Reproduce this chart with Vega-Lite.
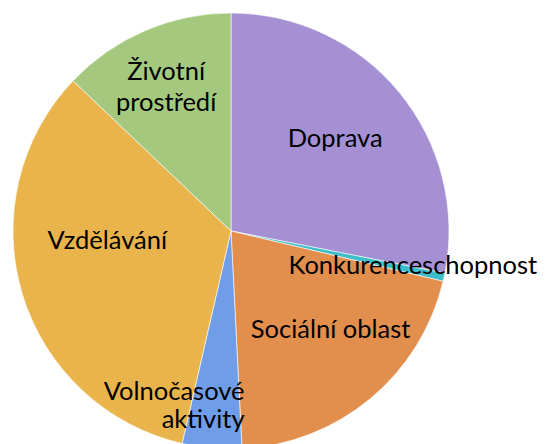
{
  "$schema": "https://vega.github.io/schema/vega-lite/v6.json",
  "width": 547,
  "height": 444,
  "autosize": "none",
  "padding": 0,
  "background": "white",
  "config": {"view": {"stroke": null}},
  "data": {
    "values": [
      {"label": "Doprava", "value": 28.1, "order": 1},
      {"label": "Konkurenceschopnost", "value": 0.6, "order": 2},
      {"label": "Sociální oblast", "value": 20.5, "order": 3},
      {"label": "Volnočasové aktivity", "value": 4.4, "order": 4},
      {"label": "Vzdělávání", "value": 33.5, "order": 5},
      {"label": "Životní prostředí", "value": 12.9, "order": 6}
    ]
  },
  "encoding": {
    "theta": {"field": "value", "type": "quantitative", "stack": true},
    "order": {"field": "order", "type": "quantitative"}
  },
  "layer": [
    {
      "mark": {"type": "arc", "x": 231, "y": 231, "outerRadius": 218, "stroke": "white", "strokeWidth": 0.6},
      "encoding": {
        "color": {
          "field": "label",
          "type": "nominal",
          "legend": null,
          "scale": {
            "domain": ["Doprava", "Konkurenceschopnost", "Sociální oblast", "Volnočasové aktivity", "Vzdělávání", "Životní prostředí"],
            "range": ["#a690d4", "#3dbdc8", "#e28f4e", "#6f9de8", "#e9b44c", "#a4c97e"]
          }
        }
      }
    },
    {
      "mark": {"type": "text", "x": 231, "y": 231, "radius": 140, "dx": -4, "dy": -3, "font": "Lato", "fontSize": 25.5, "color": "black", "align": "center", "baseline": "middle"},
      "encoding": {"text": {"condition": {"test": "datum.label === 'Doprava'", "field": "label"}, "value": ""}}
    },
    {
      "mark": {"type": "text", "x": 231, "y": 231, "radius": 184, "dx": 2, "dy": -4, "font": "Lato", "fontSize": 25.5, "color": "black", "align": "center", "baseline": "middle"},
      "encoding": {"text": {"condition": {"test": "datum.label === 'Konkurenceschopnost'", "field": "label"}, "value": ""}}
    },
    {
      "mark": {"type": "text", "x": 231, "y": 231, "radius": 140, "dx": 10, "dy": -9, "font": "Lato", "fontSize": 25.5, "color": "black", "align": "center", "baseline": "middle"},
      "encoding": {"text": {"condition": {"test": "datum.label === 'Sociální oblast'", "field": "label"}, "value": ""}}
    },
    {
      "mark": {"type": "text", "x": 231, "y": 231, "radius": 176, "dx": 29, "dy": -14, "font": "Lato", "fontSize": 25.5, "color": "black", "align": "right", "baseline": "middle", "lineBreak": " ", "lineHeight": 28},
      "encoding": {"text": {"condition": {"test": "datum.label === 'Volnočasové aktivity'", "field": "label"}, "value": ""}}
    },
    {
      "mark": {"type": "text", "x": 231, "y": 231, "radius": 125, "dx": -4, "dy": -26, "font": "Lato", "fontSize": 25.5, "color": "black", "align": "center", "baseline": "middle"},
      "encoding": {"text": {"condition": {"test": "datum.label === 'Vzdělávání'", "field": "label"}, "value": ""}}
    },
    {
      "mark": {"type": "text", "x": 231, "y": 231, "radius": 157, "dx": -3, "dy": -15, "font": "Lato", "fontSize": 25.5, "color": "black", "align": "center", "baseline": "middle", "lineBreak": " ", "lineHeight": 31},
      "encoding": {"text": {"condition": {"test": "datum.label === 'Životní prostředí'", "field": "label"}, "value": ""}}
    }
  ]
}
